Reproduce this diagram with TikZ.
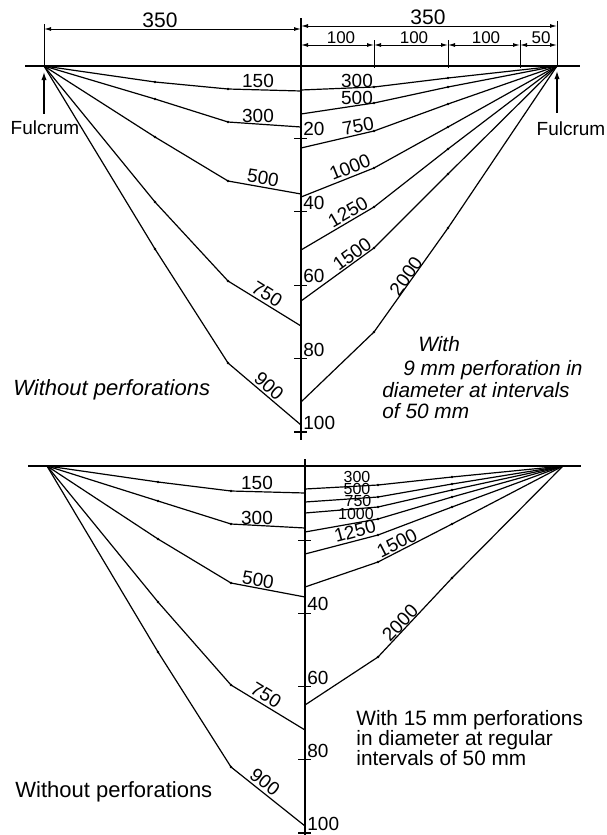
\documentclass[tikz,border=0pt]{standalone}
\usepackage{fontspec}
\setmainfont{Liberation Sans}
\usetikzlibrary{calc,arrows.meta}

\tikzset{
  curve/.style={line width=0.6pt},
  numlab/.style={font=\fontsize{9.5}{10}\selectfont,inner sep=0pt},
  tinylab/.style={font=\fontsize{8}{8}\selectfont,inner sep=0pt},
  dimlab/.style={font=\fontsize{10.5}{11}\selectfont,inner sep=0pt},
  smalllab/.style={font=\fontsize{8.5}{9}\selectfont,inner sep=0pt},
  note/.style={font=\fontsize{10.4}{11}\selectfont,inner sep=0pt,anchor=base west},
  notei/.style={note,font=\fontsize{10.4}{11}\selectfont\itshape},
  dimline/.style={line width=0.5pt,{Latex[length=3.5pt,width=2pt]}-{Latex[length=3.5pt,width=2pt]}},
  fulcarrow/.style={line width=0.6pt,-{Latex[length=4pt,width=2.6pt]}},
}

\begin{document}
\begin{tikzpicture}[x=0.5pt,y=-0.5pt]
  \path[use as bounding box] (0,0) rectangle (606,835);

  % ---------- arriba: perforaciones de 9 mm ----------
  \begin{scope}
    \coordinate (fl) at (44,66);
    \coordinate (fr) at (557,66);
    \draw[line width=0.6pt] (25,66) -- (580,66);
    \draw[line width=0.9pt] (301,18) -- (301,440);
    % cotas
    \draw[line width=0.5pt] (44,24) -- (fl);
    \draw[line width=0.5pt] (557,21) -- (fr);
    \foreach \x in {374,448,520} \draw[line width=0.5pt] (\x,40) -- (\x,68);
    \draw[dimline] (44,29) -- (301,29);
    \draw[dimline] (301,26) -- (557,26);
    \foreach \a/\b in {301/374,374/448,448/520,520/557} \draw[dimline] (\a,45) -- (\b,45);
    \node[dimlab] (c350l) at (160,20) {350};
    \node[dimlab] (c350r) at (428,17) {350};
    \foreach \x/\t [count=\i] in {341/100,414/100,486/100,541/50}
      \node[smalllab] (cot\i) at (\x,38) {\t};
    % apoyos
    \node[numlab] (fulL) at (45,128) {Fulcrum};
    \node[numlab] (fulR) at (571,129) {Fulcrum};
    \draw[fulcarrow] ($(fulL.north -| fl)+(0,-7)$) -- ($(fl)+(0,6)$);
    \draw[fulcarrow] ($(fulR.north -| fr)+(0,-9)$) -- ($(fr)+(0,5)$);
    % escala de flechas
    \foreach \v in {20,40,60,80,100}{
      \draw[line width=0.6pt] (294,{65+3.67*\v}) -- (307,{65+3.67*\v});
      \node[numlab,anchor=west] (ta\v) at (303,{56+3.67*\v}) {\v};
    }
    % sin perforaciones (izquierda)
    \foreach \ya/\yb/\yc/\t/\lx/\ly/\r in {82/89/91/150/258/81/0, 99/122/127/300/258/116/0,
        137/181/194/500/263/178/-9, 202/281/326/750/267/294/-32, 249/363/425/900/269/386/-41}{
      \draw[curve] (fl) -- (155,\ya) -- (228,\yb) -- (301,\yc);
      \fill (155,\ya) circle (1.4) (228,\yb) circle (1.4);
      \node[numlab,rotate=\r] (tl\t) at (\lx,\ly) {\t};
    }
    % con perforaciones (derecha)
    \foreach \ya/\yb/\yc/\t/\lx/\ly/\r in {78/87/90/300/357/81/0, 87/103/114/500/357/98/0,
        104/131/148/750/358/126/10, 127/168/197/1000/350/167/22, 149/207/250/1250/348/212/30,
        174/248/301/1500/352/254/36, 228/332/402/2000/406/276/55}{
      \draw[curve] (fr) -- (448,\ya) -- (374,\yb) -- (301,\yc);
      \fill (448,\ya) circle (1.4) (374,\yb) circle (1.4);
      \node[numlab,rotate=\r] (tr\t) at (\lx,\ly) {\t};
    }
    \node[notei,font=\fontsize{11}{12}\selectfont\itshape] (wo1) at (13,395) {Without perforations};
    \node[notei] (n1) at (418,351) {With};
    \node[notei] (n2) at (403,375) {9 mm perforation in};
    \node[notei] (n3) at (382,397) {diameter at intervals};
    \node[notei] (n4) at (382,418) {of 50 mm};
  \end{scope}

  % ---------- abajo: perforaciones de 15 mm ----------
  \begin{scope}
    \coordinate (gl) at (47,466);
    \coordinate (gr) at (563,466);
    \draw[line width=0.6pt] (28,466) -- (581,466);
    \draw[line width=0.9pt] (305,459) -- (305,835);
    \foreach \v in {20,40,60,80,100}
      \draw[line width=0.6pt] (298,{467+3.66*\v}) -- (311,{467+3.66*\v});
    \foreach \v in {40,60,80,100}
      \node[numlab,anchor=west] (tb\v) at (307,{458+3.66*\v}) {\v};
    % sin perforaciones (izquierda)
    \foreach \ya/\yb/\yc/\t/\lx/\ly/\r in {482/491/493/150/257/483/0, 501/524/528/300/257/518/0,
        539/583/597/500/258/580/-9, 602/685/730/750/266/695/-32, 652/767/826/900/265/782/-38}{
      \draw[curve] (gl) -- (158,\ya) -- (231,\yb) -- (305,\yc);
      \fill (158,\ya) circle (1.4) (231,\yb) circle (1.4);
      \node[numlab,rotate=\r] (bl\t) at (\lx,\ly) {\t};
    }
    % con perforaciones (derecha)
    \foreach \ya/\yb/\yc in {477/485/489, 484/497/502, 490/507/513, 497/519/532, 507/535/554,
        524/562/587, 578/657/705}{
      \draw[curve] (gr) -- (452,\ya) -- (378,\yb) -- (305,\yc);
      \fill (452,\ya) circle (1.4) (378,\yb) circle (1.4);
    }
    \foreach \t/\lx/\ly in {300/357/477, 500/357/489, 750/358/501, 1000/356/514}
      \node[tinylab] (br\t) at (\lx,\ly) {\t};
    \foreach \t/\lx/\ly/\r in {1250/355/531/15, 1500/397/543/27, 2000/400/623/46}
      \node[numlab,rotate=\r] (br\t) at (\lx,\ly) {\t};
    \node[note,font=\fontsize{11}{12}\selectfont] (wo2) at (15,797) {Without perforations};
    \node[note] (m1) at (356,725) {With 15 mm perforations};
    \node[note] (m2) at (356,745) {in diameter at regular};
    \node[note] (m3) at (356,765) {intervals of 50 mm};
  \end{scope}
\end{tikzpicture}
\end{document}
